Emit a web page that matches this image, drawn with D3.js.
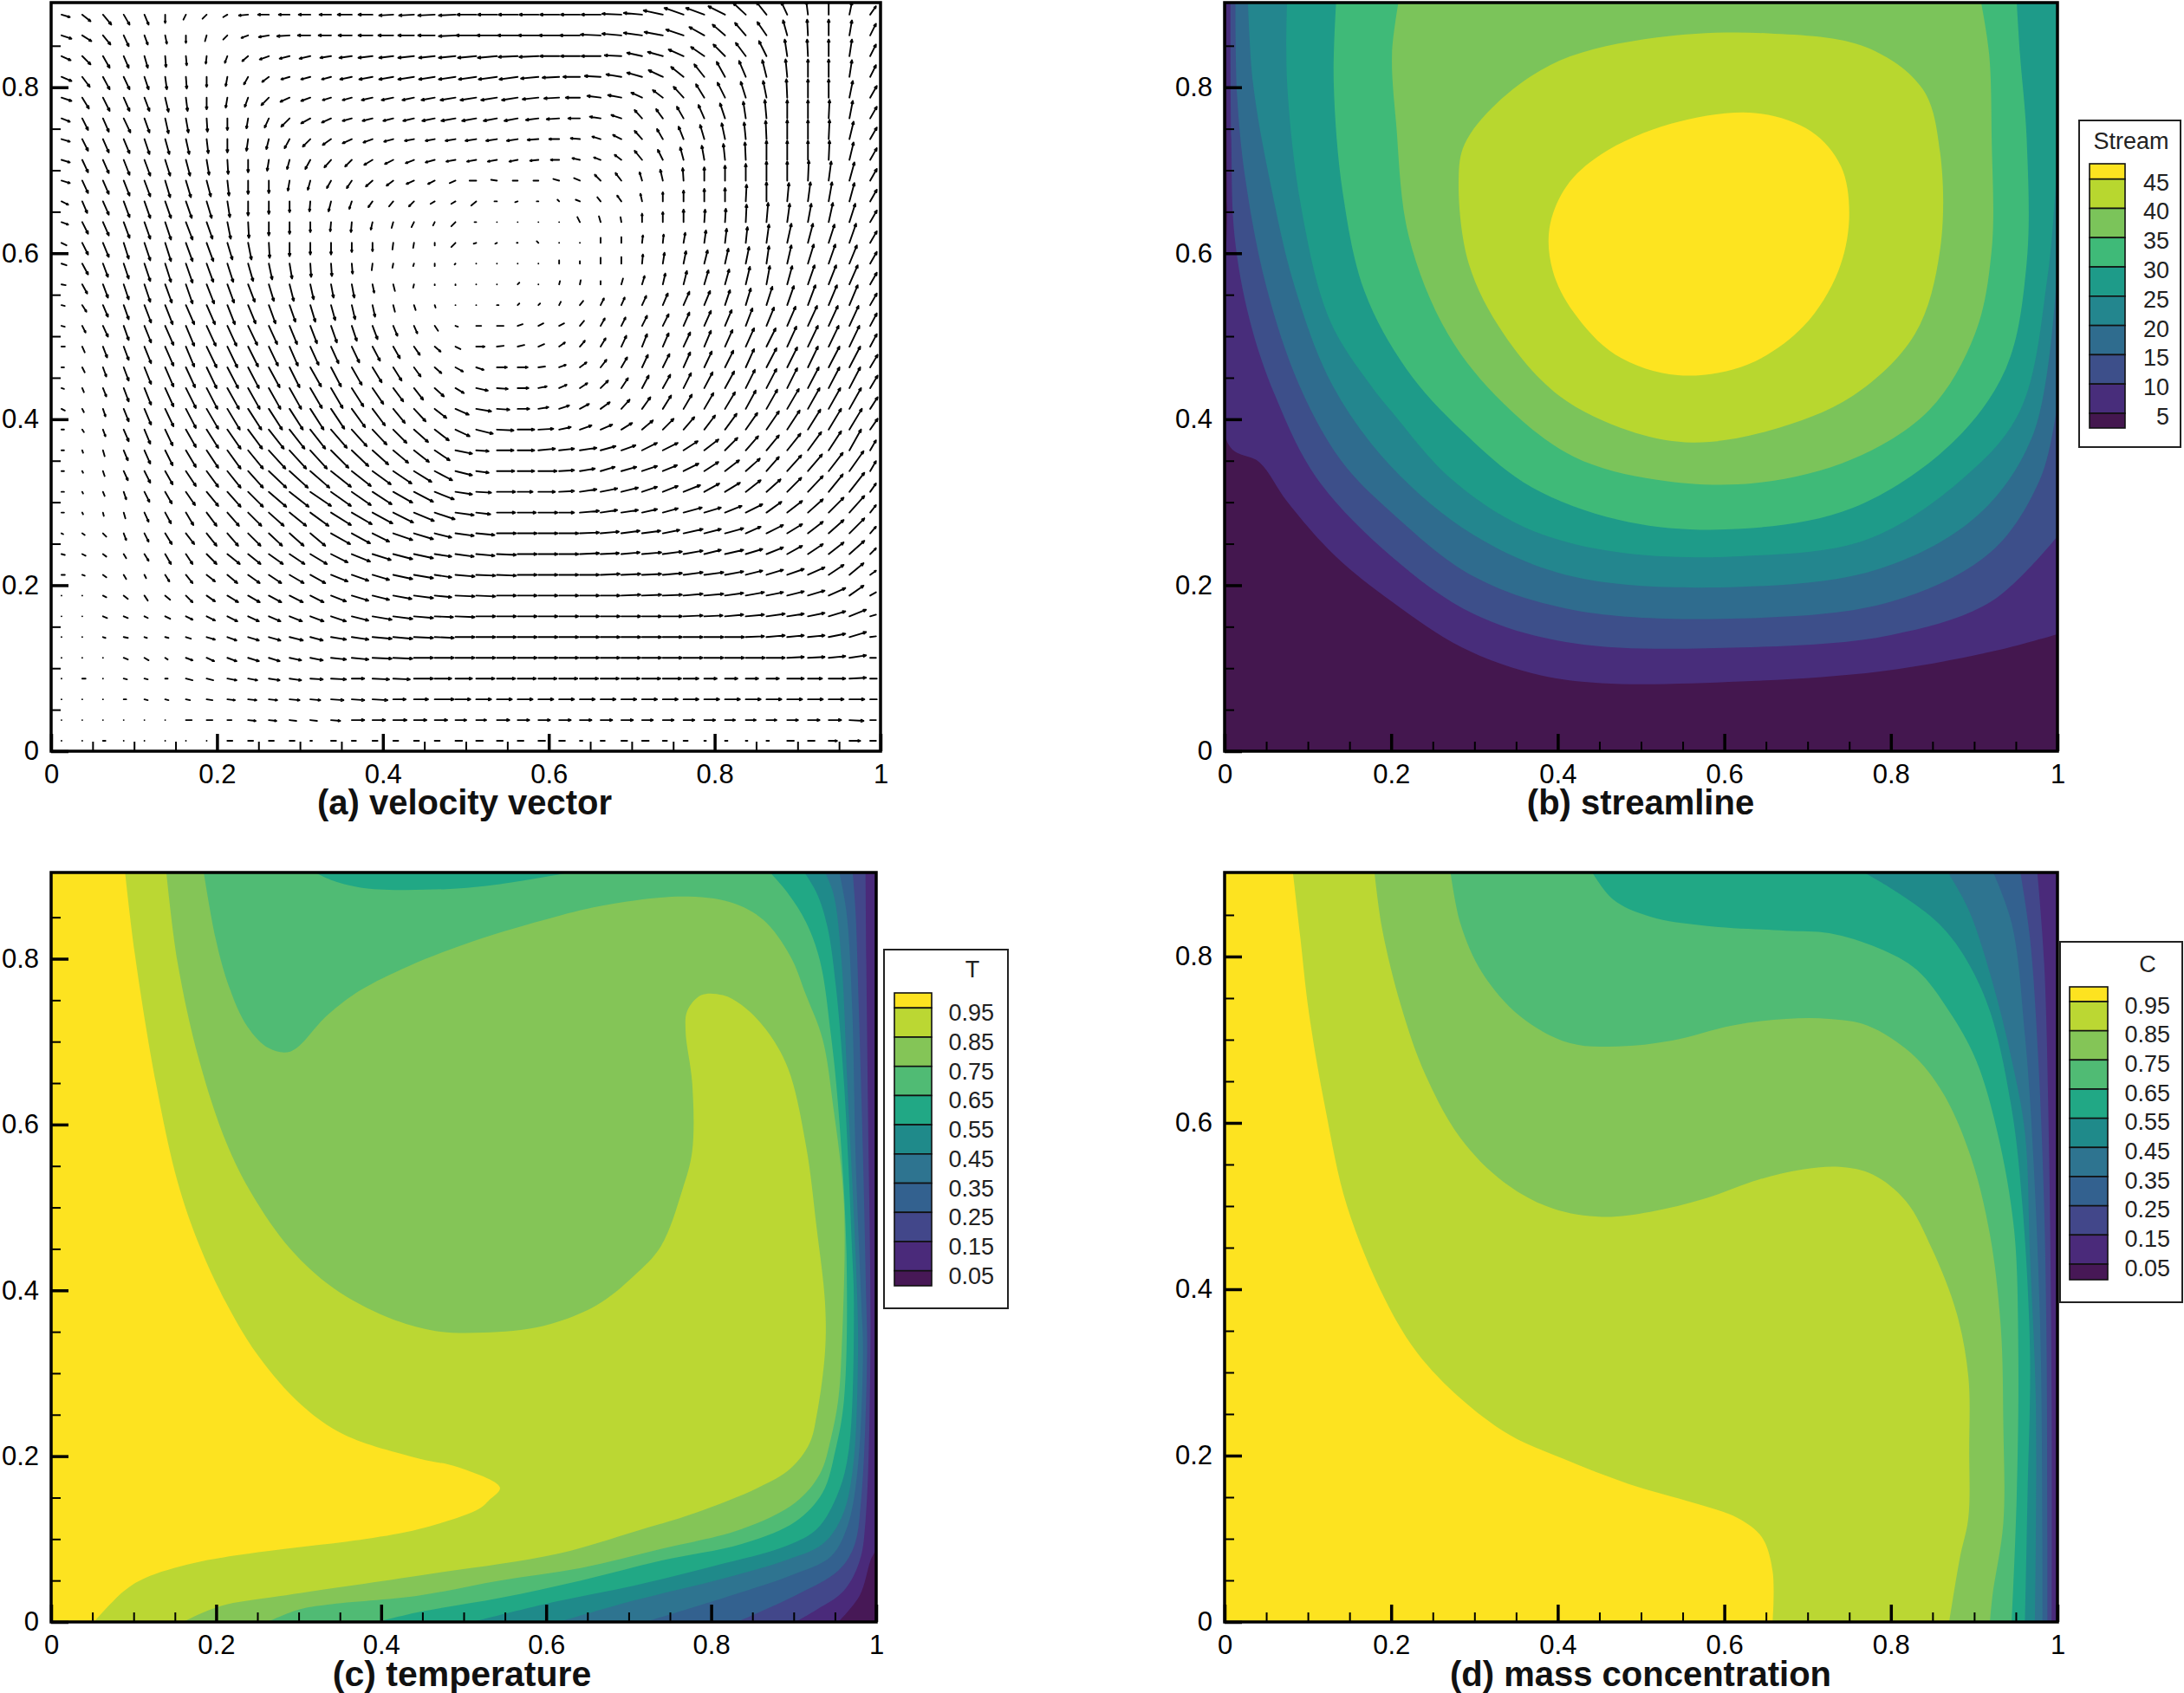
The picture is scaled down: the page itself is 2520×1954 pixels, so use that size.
<!DOCTYPE html>
<html>
<head>
<meta charset="utf-8">
<script src="https://cdn.jsdelivr.net/npm/d3@7"></script>
<style>
  html, body { margin: 0; padding: 0; background: #fff; }
  text { font-family: "Liberation Sans", Arial, sans-serif; }
</style>
</head>
<body>
<div id="chart"></div>
<script>
// axis ticks, shared by all four panels
var xMajor = [0, 0.2, 0.4, 0.6, 0.8, 1];
var yMajor = [0, 0.2, 0.4, 0.6, 0.8];
var xMinor = [0.05, 0.1, 0.15, 0.25, 0.3, 0.35, 0.45, 0.5, 0.55, 0.65, 0.7, 0.75, 0.85, 0.9, 0.95];
var yMinor = [0.05, 0.1, 0.15, 0.25, 0.3, 0.35, 0.45, 0.5, 0.55, 0.65, 0.7, 0.75, 0.85];

// velocity grid, cell centres
var velX = d3.range(40).map(function (i) { return 0.0125 + 0.025 * i; });
var velY = d3.range(36).map(function (j) { return 0.8875 - 0.025 * j; });

// velocity components, row by row from the top
var velU = [
[10,10,10,7,5,0,-3,-5,-5,-11,-13,-13,-14,-14,-17,-17,-17,-18,-20,-20,-23,-23,-23,-23,-23,-23,-23,-23,-22,-23,-23,-22,-20,-15,-12,-7,-2,0,3,7],
[12,11,9,6,4,2,0,-2,-5,-8,-12,-15,-15,-15,-16,-17,-18,-19,-20,-20,-24,-24,-24,-24,-24,-24,-24,-23,-22,-22,-21,-18,-15,-13,-11,-5,-1,0,3,7],
[11,10,8,6,4,1,1,-1,-3,-7,-11,-12,-13,-13,-15,-17,-17,-19,-19,-20,-22,-23,-23,-23,-23,-23,-23,-20,-18,-18,-18,-16,-14,-12,-9,-3,-1,0,3,7],
[12,9,8,7,5,2,1,0,-2,-5,-8,-10,-11,-11,-14,-16,-17,-19,-19,-20,-21,-22,-22,-21,-20,-20,-19,-18,-18,-17,-15,-12,-10,-8,-5,-2,0,0,3,7],
[12,8,8,7,6,4,2,0,-2,-4,-9,-11,-11,-10,-11,-13,-14,-14,-16,-18,-19,-19,-19,-19,-18,-17,-16,-16,-13,-12,-12,-10,-9,-6,-4,-1,0,0,4,8],
[10,7,7,8,6,4,3,1,0,-2,-5,-10,-11,-11,-11,-12,-12,-13,-15,-17,-17,-16,-16,-15,-15,-14,-13,-12,-9,-8,-8,-7,-6,-3,-2,0,0,1,4,8],
[10,7,7,7,6,5,4,2,0,-2,-3,-6,-9,-10,-11,-11,-11,-11,-11,-12,-13,-13,-13,-13,-12,-11,-10,-10,-9,-7,-6,-5,-4,-2,-1,0,0,1,5,8],
[10,7,7,7,7,6,5,3,1,0,-2,-3,-6,-8,-8,-10,-10,-10,-11,-11,-11,-11,-10,-10,-10,-9,-8,-8,-9,-6,-4,-3,-2,-1,0,0,0,1,5,8],
[10,7,7,7,7,6,6,5,2,0,0,-2,-3,-5,-6,-8,-8,-9,-8,-7,-8,-7,-6,-6,-7,-7,-7,-7,-3,-3,-1,0,0,0,0,0,1,3,6,8],
[8,6,7,7,7,7,7,6,3,0,0,0,-1,-3,-3,-5,-5,-6,-5,-5,-6,-3,-3,-2,-2,-5,-4,-5,-2,0,0,0,0,1,0,2,3,4,6,8],
[8,7,7,7,7,7,8,7,4,1,0,0,0,-1,-1,-2,-2,-3,-2,-5,-2,0,0,0,0,-3,-2,-1,0,0,0,1,1,1,2,3,4,5,7,8],
[6,7,7,6,7,7,8,8,6,4,1,0,0,0,0,0,-1,-1,0,-5,-3,-2,-1,-2,0,0,0,0,1,1,2,2,2,2,3,5,6,7,8,8],
[6,7,6,6,7,7,8,8,7,6,4,3,1,1,1,-1,-1,-1,0,-1,0,0,0,0,0,0,0,0,1,2,3,4,4,4,3,5,7,8,9,8],
[5,6,6,6,7,8,8,9,8,8,6,5,4,3,3,2,2,-1,0,0,0,0,2,0,1,1,0,2,3,3,4,5,5,5,4,6,8,9,10,8],
[4,5,6,6,8,9,10,10,9,9,8,7,6,5,4,3,2,2,1,0,0,2,2,2,2,4,4,4,5,6,7,7,6,6,7,8,9,10,10,8],
[4,4,6,6,8,10,10,11,11,11,10,9,8,7,6,6,5,4,4,3,6,8,6,6,6,5,5,5,6,7,7,8,8,8,9,10,11,11,11,8],
[4,3,5,6,8,10,10,12,12,12,11,10,10,9,9,9,8,7,7,6,10,8,8,7,7,6,6,6,6,7,8,8,9,10,11,11,12,12,12,8],
[3,3,4,6,8,10,11,12,13,13,13,12,13,12,12,11,10,8,8,9,9,12,12,8,8,8,7,7,7,8,8,9,10,10,12,12,12,13,13,9],
[3,2,4,6,8,10,12,13,14,14,14,14,14,14,14,13,12,11,11,10,14,13,13,10,9,9,9,8,8,9,9,10,11,11,12,12,13,13,13,9],
[4,2,3,6,8,10,12,14,15,16,16,16,16,16,16,15,14,14,14,16,18,15,14,12,12,11,11,10,10,10,10,11,12,12,13,14,14,14,14,9],
[3,2,3,6,7,9,12,14,16,17,18,18,18,19,18,17,16,17,17,17,20,20,20,18,14,14,14,13,13,13,13,13,14,14,15,15,15,15,15,9],
[3,1,2,5,7,9,12,14,16,18,20,20,20,21,20,19,18,18,18,20,15,20,20,20,18,20,18,17,18,18,17,17,15,15,15,16,16,15,14,7],
[3,1,2,5,7,9,12,14,16,18,21,22,23,24,23,22,22,21,21,20,15,21,20,22,18,18,17,18,18,17,18,17,17,17,15,17,17,17,17,7],
[3,1,2,3,6,8,11,14,16,18,21,23,25,24,23,23,23,23,23,20,18,22,18,20,18,20,20,20,18,18,20,18,18,18,17,17,18,17,18,7],
[3,1,1,2,5,7,9,12,14,16,18,20,22,24,24,24,24,24,24,22,17,22,22,23,18,23,20,20,18,18,22,20,20,20,18,18,18,18,18,7],
[2,3,4,3,5,8,10,12,13,15,16,17,18,23,22,20,23,23,20,22,22,23,23,23,23,23,22,22,22,20,23,20,22,18,20,18,18,18,18,7],
[4,4,4,3,5,7,8,12,15,15,17,18,20,20,22,22,23,23,20,22,22,23,23,23,23,23,22,22,23,23,23,20,22,20,20,18,18,18,18,7],
[4,3,4,3,2,5,8,10,12,14,15,17,18,20,20,20,23,23,20,23,23,23,23,23,23,23,23,23,23,23,23,23,22,20,20,20,20,18,17,7],
[0,0,4,5,4,6,8,10,13,14,15,16,16,18,20,20,22,23,20,23,23,23,23,23,23,23,23,23,23,23,23,23,22,22,20,20,20,20,17,7],
[0,0,5,5,4,6,8,10,12,13,14,15,16,18,20,23,23,23,22,23,23,23,23,23,23,23,23,23,23,23,23,22,22,22,22,20,20,20,20,7],
[0,0,3,5,3,4,6,10,11,13,14,16,15,18,20,23,23,23,23,23,23,23,23,23,23,23,23,23,23,23,23,23,23,22,22,20,20,20,20,7],
[0,0,0,5,5,3,8,9,11,13,13,14,15,18,20,23,23,23,23,23,23,23,23,23,23,23,23,23,23,23,23,23,23,23,22,20,20,20,20,7],
[0,4,0,4,4,3,8,8,11,11,13,14,15,18,15,20,20,23,20,20,22,22,22,22,22,22,22,22,22,22,18,15,15,15,15,20,17,20,20,8],
[0,0,0,3,4,4,5,7,9,10,10,12,12,15,15,18,15,17,23,18,18,18,18,18,18,18,18,18,18,18,18,18,18,18,18,18,18,18,18,8],
[0,0,0,0,0,0,7,7,5,9,9,8,8,11,15,15,16,15,15,13,12,15,14,14,14,14,14,14,13,13,13,13,12,12,12,13,14,15,17,7],
[0,0,3,0,0,0,0,0,6,6,6,6,2,6,5,6,6,6,6,8,8,7,7,8,7,3,5,7,8,5,5,2,3,2,3,8,8,10,13,7]
];
var velV = [
[-3,-8,-12,-12,-12,-10,-6,-5,-3,-1,0,0,0,0,0,0,-1,-1,-1,-1,0,0,0,0,0,0,0,1,2,5,8,8,10,14,15,15,16,17,15,10],
[-4,-7,-11,-13,-11,-10,-9,-7,-5,-3,-2,-1,0,0,0,0,0,0,0,-1,0,0,0,0,0,0,1,2,3,4,7,10,13,15,16,18,19,19,18,14],
[-5,-10,-14,-14,-14,-13,-11,-9,-8,-6,-4,-3,-3,-2,-2,-2,-2,-2,-2,-2,-2,-2,-1,-1,0,0,0,1,4,5,8,11,14,16,18,20,20,20,20,14],
[-5,-12,-15,-15,-15,-15,-14,-12,-11,-9,-6,-3,-3,-3,-3,-3,-3,-3,-3,-3,-3,-3,-3,-2,-1,0,1,3,5,8,12,15,18,19,20,21,21,21,20,14],
[-4,-13,-16,-16,-16,-17,-16,-14,-12,-11,-9,-5,-4,-3,-3,-3,-3,-3,-3,-3,-3,-3,-3,-2,-1,0,2,3,6,9,13,16,18,19,20,22,22,22,20,14],
[-4,-14,-16,-17,-17,-18,-17,-16,-14,-12,-11,-10,-6,-5,-3,-3,-3,-3,-3,-3,-3,-3,-3,-2,-1,0,2,4,10,11,14,16,18,20,22,22,22,22,21,14],
[-3,-14,-16,-17,-18,-18,-18,-17,-16,-14,-12,-11,-9,-7,-5,-4,-3,-2,-2,-2,-2,-2,-2,-1,0,1,3,5,10,12,15,17,19,20,22,23,23,23,21,14],
[-3,-15,-16,-18,-19,-19,-19,-18,-17,-15,-13,-11,-11,-9,-8,-6,-5,-4,-3,-2,-2,-2,-2,-1,0,2,3,6,11,12,15,17,19,21,23,23,23,23,21,14],
[-3,-15,-16,-18,-19,-20,-20,-19,-18,-16,-15,-12,-11,-9,-9,-7,-6,-4,-4,-3,0,1,0,0,2,3,7,9,10,13,15,16,18,20,23,23,24,23,22,14],
[-4,-14,-16,-19,-20,-20,-20,-20,-19,-17,-15,-13,-12,-12,-9,-7,-6,-6,-3,-3,-5,0,-1,0,2,2,5,7,9,11,13,15,16,20,23,22,23,23,22,14],
[-3,-14,-16,-19,-20,-21,-21,-20,-20,-19,-16,-14,-12,-11,-12,-9,-7,-6,-4,-5,0,0,0,0,0,6,7,6,10,12,15,15,16,21,23,22,22,23,22,14],
[-3,-14,-17,-19,-21,-22,-22,-22,-20,-20,-18,-16,-14,-14,-11,-10,-8,-6,-3,-5,-1,-1,0,2,0,0,6,7,9,10,12,15,17,19,22,23,23,22,23,14],
[-2,-13,-16,-18,-21,-22,-23,-22,-22,-21,-19,-18,-16,-15,-12,-8,-5,-3,-3,-1,0,0,0,0,4,3,7,8,11,13,15,16,18,20,21,22,23,23,22,14],
[-1,-11,-16,-18,-21,-22,-23,-23,-22,-21,-20,-20,-18,-16,-16,-10,-8,-4,-1,-1,0,0,2,0,4,5,4,7,10,13,16,17,18,21,22,22,23,23,23,14],
[-1,-8,-14,-17,-21,-23,-23,-23,-23,-22,-22,-20,-20,-18,-17,-14,-8,-6,-3,0,0,0,2,2,4,5,8,9,11,14,16,17,18,20,22,23,24,24,24,14],
[-1,-8,-13,-17,-20,-23,-24,-24,-24,-23,-22,-22,-21,-20,-18,-16,-12,-9,-6,-1,0,0,2,3,3,6,9,10,12,14,16,18,19,21,22,23,24,24,24,15],
[0,-7,-13,-16,-20,-23,-24,-25,-25,-24,-23,-23,-22,-20,-19,-17,-14,-10,-6,-3,0,1,2,3,5,7,10,13,15,16,17,19,20,22,22,24,25,25,25,15],
[0,-6,-11,-16,-20,-23,-24,-25,-25,-25,-24,-24,-23,-23,-21,-18,-16,-11,-7,-5,-3,0,0,1,3,6,9,12,15,16,18,19,20,22,23,24,25,25,25,15],
[-1,-5,-10,-16,-20,-22,-24,-25,-25,-25,-25,-25,-24,-24,-22,-19,-16,-14,-10,-6,-3,-1,0,2,4,6,9,12,15,16,18,19,20,22,23,24,25,25,25,15],
[-2,-4,-9,-15,-19,-21,-23,-24,-25,-25,-25,-25,-25,-24,-22,-20,-17,-15,-11,-7,-3,-1,0,2,4,6,8,11,14,16,17,19,20,22,23,24,25,25,25,14],
[0,-3,-8,-14,-17,-19,-21,-22,-23,-23,-23,-23,-23,-22,-20,-18,-16,-15,-13,-8,-5,-1,0,1,3,5,6,8,11,13,15,17,19,20,22,23,24,25,25,13],
[0,-3,-7,-12,-16,-18,-20,-21,-22,-22,-22,-22,-22,-21,-19,-17,-15,-14,-12,-4,-1,0,0,2,2,3,5,6,9,9,11,13,15,17,18,20,22,23,25,12],
[0,-2,-6,-11,-14,-16,-18,-19,-20,-20,-20,-20,-20,-19,-18,-16,-15,-13,-11,-5,-2,0,0,0,1,3,5,5,6,7,9,11,13,15,17,19,20,22,24,12],
[0,-2,-5,-9,-12,-14,-16,-17,-18,-18,-18,-18,-17,-17,-16,-15,-13,-12,-9,-3,-1,0,0,0,1,3,4,5,6,7,8,10,11,14,15,17,19,21,23,10],
[0,-2,-4,-7,-11,-13,-15,-16,-16,-16,-16,-16,-16,-15,-14,-13,-12,-10,-8,-3,-2,0,0,0,0,2,3,3,4,5,6,6,8,10,13,14,16,18,20,9],
[-1,-2,-4,-8,-10,-13,-13,-15,-15,-15,-15,-15,-15,-13,-12,-10,-8,-7,-5,-3,-2,0,0,0,0,1,2,3,3,4,5,5,6,8,10,11,14,16,18,8],
[-1,-2,-3,-5,-8,-12,-12,-12,-12,-12,-12,-12,-12,-10,-9,-7,-6,-5,-3,-3,-2,-1,0,0,0,1,1,2,2,3,4,5,5,6,8,10,12,14,16,7],
[0,-1,-3,-5,-4,-8,-10,-8,-10,-10,-10,-10,-10,-8,-7,-6,-5,-4,-3,-2,-1,-1,0,0,0,0,1,1,1,2,3,3,4,5,6,7,9,12,14,5],
[0,0,-2,-4,-6,-5,-8,-7,-8,-8,-8,-8,-8,-7,-6,-5,-4,-3,-2,-1,-1,0,0,0,0,0,0,1,1,1,2,2,3,4,4,5,6,9,12,4],
[0,0,-2,-2,-2,-3,-4,-5,-6,-6,-6,-6,-6,-6,-5,-4,-3,-2,-1,-1,0,0,0,0,0,0,0,0,0,0,1,1,2,2,3,3,4,6,8,2],
[0,0,-1,-1,-1,-1,-2,-3,-4,-4,-4,-4,-4,-3,-3,-2,-2,-1,-1,0,0,0,0,0,0,0,0,0,0,0,0,0,0,1,2,2,2,4,6,1],
[0,0,0,-2,-3,-2,-3,-4,-4,-4,-4,-3,-3,-2,-2,-1,-1,0,0,0,0,0,0,0,0,0,0,0,0,0,0,0,0,0,0,1,1,2,3,0],
[0,0,0,-1,-1,0,-2,-2,-2,-2,-2,-2,-1,-1,0,-1,-1,0,0,0,0,0,0,0,0,0,0,0,0,0,0,0,0,0,0,0,0,0,1,0],
[0,0,0,0,-1,-1,-1,-1,-1,-1,-1,-1,-1,-1,-1,-1,0,0,0,0,0,0,0,0,0,0,0,0,0,0,0,0,0,0,0,0,0,0,0,0],
[0,0,0,0,0,0,0,0,0,-1,-1,-1,-1,-1,0,0,0,0,0,0,0,0,0,0,0,0,0,0,0,0,0,0,0,0,0,0,0,0,-1,0],
[0,0,0,0,0,0,0,0,0,0,0,0,0,0,0,0,0,0,0,0,0,0,0,0,0,0,0,0,0,0,0,0,0,0,0,0,0,0,0,0]
];

// stream function contours, [x, y]
var streamLevels = [5, 10, 15, 20, 25, 30, 35, 40, 45];
var streamColors = ["#44174f", "#482d7b", "#3d4f8a", "#2f6c8e", "#23868e", "#1e9b89", "#3fba78", "#7bc45a", "#b8d72f", "#fde420"];
var streamLines = [
  [[.002,.904],[.003,.655],[.005,.369],[.042,.348],[.075,.301],[.134,.234],[.201,.18],[.285,.125],[.369,.094],[.452,.082],[.62,.084],[.787,.096],[.921,.12],[1,.141]],
  [[.007,.904],[.008,.739],[.012,.62],[.03,.52],[.06,.43],[.11,.33],[.2,.235],[.3,.165],[.42,.13],[.62,.125],[.8,.14],[.92,.18],[1,.259]],
  [[.013,.904],[.015,.79],[.025,.689],[.05,.56],[.09,.44],[.14,.35],[.2,.288],[.3,.21],[.42,.17],[.62,.16],[.8,.18],[.92,.24],[.98,.33],[1,.419]],
  [[.028,.904],[.034,.806],[.054,.689],[.084,.56],[.13,.44],[.2,.343],[.3,.26],[.42,.21],[.62,.198],[.787,.22],[.905,.285],[.972,.385],[1,.586]],
  [[.075,.904],[.075,.806],[.092,.655],[.126,.52],[.176,.44],[.2,.41],[.27,.33],[.36,.27],[.47,.24],[.62,.235],[.771,.255],[.888,.33],[.955,.41],[.988,.571],[1,.715]],
  [[.134,.904],[.131,.806],[.142,.672],[.168,.554],[.218,.461],[.285,.386],[.369,.318],[.486,.276],[.62,.268],[.754,.293],[.871,.369],[.938,.461],[.963,.588],[.963,.739],[.955,.84],[.951,.904]],
  [[.209,.904],[.201,.84],[.206,.756],[.221,.621],[.268,.503],[.335,.419],[.419,.355],[.519,.327],[.637,.323],[.754,.352],[.846,.411],[.901,.503],[.921,.604],[.921,.739],[.918,.84],[.908,.904]],
  [[.281,.689],[.293,.588],[.335,.503],[.402,.428],[.486,.386],[.561,.372],[.653,.386],[.754,.428],[.829,.503],[.859,.604],[.859,.722],[.838,.798],[.771,.848],[.653,.865],[.519,.86],[.402,.832],[.327,.781],[.288,.731]],
  [[.39,.63],[.41,.68],[.452,.719],[.536,.756],[.637,.769],[.704,.747],[.74,.705],[.75,.646],[.737,.579],[.695,.512],[.628,.466],[.544,.453],[.469,.478],[.419,.529],[.394,.579]]
];

// temperature contours, each from the bottom edge up to the top edge
var tempLevels = [.05, .15, .25, .35, .45, .55, .65, .75, .85, .95];
var tempColors = ["#471856", "#4a2a7a", "#42478a", "#33618f", "#2e7490", "#1f8a8a", "#21a885", "#50bb74", "#84c557", "#bbd733", "#fde320"];
var tempLines = [
  [[.954,0],[.98,.032],[.993,.074],[1,.091],[1,.91]],
  [[.902,0],[.928,.015],[.961,.038],[.98,.074],[.987,.121],[.993,.326],[.99,.621],[.988,.797],[.987,.91]],
  [[.831,0],[.902,.032],[.954,.062],[.973,.091],[.982,.15],[.989,.326],[.988,.385],[.984,.562],[.979,.738],[.975,.856],[.971,.91]],
  [[.72,0],[.824,.032],[.896,.056],[.945,.079],[.965,.115],[.977,.179],[.984,.326],[.982,.385],[.975,.562],[.971,.738],[.964,.856],[.954,.91]],
  [[.616,0],[.707,.026],[.805,.05],[.889,.074],[.935,.094],[.958,.126],[.971,.179],[.978,.326],[.975,.444],[.965,.65],[.958,.797],[.948,.879],[.935,.91]],
  [[.511,0],[.609,.024],[.707,.044],[.805,.068],[.889,.091],[.928,.112],[.954,.156],[.967,.209],[.973,.385],[.971,.444],[.961,.65],[.951,.768],[.941,.838],[.928,.879],[.909,.91]],
  [[.395,0],[.446,.012],[.544,.029],[.642,.05],[.739,.074],[.837,.094],[.902,.121],[.935,.156],[.951,.209],[.961,.268],[.964,.444],[.954,.621],[.945,.709],[.932,.797],[.915,.844],[.893,.879],[.866,.91]],
  [[.262,0],[.3,.015],[.335,.021],[.446,.032],[.544,.05],[.642,.065],[.739,.088],[.837,.112],[.902,.144],[.932,.179],[.945,.221],[.954,.268],[.958,.326],[.961,.503],[.948,.621],[.935,.703],[.915,.756],[.896,.803],[.863,.847],[.824,.868],[.765,.875],[.674,.865],[.609,.85],[.511,.821],[.433,.791],[.375,.762],[.335,.732],[.29,.688],[.264,.692],[.238,.718],[.215,.768],[.199,.826],[.184,.91]],
  [[.16,0],[.205,.019],[.276,.031],[.446,.056],[.613,.082],[.707,.109],[.782,.132],[.857,.162],[.896,.185],[.919,.215],[.928,.25],[.938,.326],[.938,.385],[.928,.474],[.915,.574],[.893,.668],[.866,.715],[.837,.744],[.814,.756],[.788,.756],[.771,.737],[.769,.712],[.777,.65],[.777,.568],[.765,.521],[.739,.453],[.707,.418],[.661,.382],[.596,.357],[.524,.349],[.466,.351],[.407,.368],[.342,.403],[.29,.45],[.244,.515],[.212,.579],[.179,.679],[.153,.797],[.139,.91]],
  [[.052,0],[.088,.037],[.114,.053],[.173,.071],[.251,.084],[.381,.1],[.446,.112],[.518,.136],[.531,.147],[.544,.162],[.492,.187],[.446,.197],[.355,.226],[.303,.262],[.251,.321],[.212,.385],[.179,.456],[.153,.532],[.127,.65],[.101,.809],[.089,.91]]
];
// cooler pocket along the top wall, below .65
var tempPocket = [[.312,.908],[.342,.894],[.381,.885],[.479,.884],[.544,.89],[.64,.906]];

// concentration contours, each from the top edge down to the bottom edge
var concLevels = [.05, .15, .25, .35, .45, .55, .65, .75, .85, .95];
var concColors = ["#471856", "#4a2a7a", "#42478a", "#33618f", "#2e7490", "#1f8a8a", "#21a885", "#50bb74", "#84c557", "#bbd733", "#fde320"];
var concLines = [
  [[1,.91],[1,0]],
  [[.975,.91],[.984,.793],[.99,.559],[.993,.266],[.993,0]],
  [[.954,.91],[.967,.822],[.977,.676],[.984,.5],[.987,.324],[.988,0]],
  [[.919,.91],[.945,.84],[.961,.705],[.971,.559],[.98,.324],[.982,0]],
  [[.863,.91],[.893,.857],[.922,.769],[.945,.676],[.961,.588],[.967,.441],[.974,.266],[.973,0]],
  [[.752,.91],[.811,.875],[.857,.84],[.889,.799],[.919,.734],[.945,.617],[.958,.5],[.967,.324],[.964,.149],[.961,0]],
  [[.436,.91],[.466,.869],[.511,.848],[.577,.837],[.674,.831],[.726,.828],[.785,.81],[.831,.784],[.87,.734],[.902,.676],[.928,.588],[.948,.471],[.953,.324],[.951,.149],[.945,0]],
  [[.27,.91],[.283,.84],[.309,.781],[.355,.728],[.414,.696],[.472,.692],[.537,.699],[.609,.717],[.674,.725],[.726,.725],[.772,.717],[.824,.684],[.863,.635],[.896,.559],[.919,.465],[.932,.354],[.935,.237],[.935,.119],[.922,.032],[.919,0]],
  [[.179,.91],[.189,.834],[.212,.74],[.241,.658],[.283,.582],[.335,.529],[.394,.497],[.453,.487],[.511,.493],[.577,.509],[.642,.532],[.694,.544],[.739,.547],[.778,.538],[.818,.506],[.85,.447],[.879,.371],[.893,.295],[.894,.207],[.893,.125],[.883,.078],[.87,0]],
  [[.081,.91],[.091,.822],[.101,.734],[.121,.617],[.147,.5],[.192,.389],[.231,.324],[.283,.269],[.342,.225],[.407,.196],[.485,.166],[.564,.143],[.616,.125],[.645,.102],[.658,.061],[.658,0]]
];

var streamLabels = ["45", "40", "35", "30", "25", "20", "15", "10", "5"];
var fracLabels = ["0.95", "0.85", "0.75", "0.65", "0.55", "0.45", "0.35", "0.25", "0.15", "0.05"];

var width = 2520, height = 1954;
var svg = d3.select("#chart").append("svg")
  .attr("width", width).attr("height", height)
  .style("display", "block").style("background", "#fff");

var clipId = 0;

// one plot frame: scales, clip, ticks and title
function makePanel(box, title) {
  var x = d3.scaleLinear().domain([0, 1]).range([box.left, box.right]);
  var y = d3.scaleLinear().domain([0, box.top_y]).range([box.bottom, box.top]);
  var id = "clip" + (clipId++);
  svg.append("clipPath").attr("id", id).append("rect")
    .attr("x", box.left).attr("y", box.top)
    .attr("width", box.right - box.left).attr("height", box.bottom - box.top);
  var g = svg.append("g");
  var marks = g.append("g").attr("clip-path", "url(#" + id + ")");
  return { x: x, y: y, g: g, marks: marks, box: box, title: title };
}

function finishPanel(p) {
  var box = p.box;
  var fmt = function (d) { return String(d); };

  function styleAxis(a, w, size) {
    a.select(".domain").remove();
    a.selectAll("line").attr("stroke", "#000").attr("stroke-width", w);
    a.selectAll("text").attr("font-size", size).attr("fill", "#000")
      .attr("font-family", '"Liberation Sans", Arial, sans-serif');
  }

  p.g.append("g").attr("transform", "translate(0," + box.bottom + ")")
    .call(d3.axisBottom(p.x).tickValues(xMinor).tickSizeInner(-11).tickSizeOuter(0).tickFormat(""))
    .call(styleAxis, 2, 0);
  p.g.append("g").attr("transform", "translate(" + box.left + ",0)")
    .call(d3.axisLeft(p.y).tickValues(yMinor).tickSizeInner(-11).tickSizeOuter(0).tickFormat(""))
    .call(styleAxis, 2, 0);
  p.g.append("g").attr("transform", "translate(0," + box.bottom + ")")
    .call(d3.axisBottom(p.x).tickValues(xMajor).tickSizeInner(-20).tickSizeOuter(0).tickPadding(15).tickFormat(fmt))
    .call(styleAxis, 3.5, 31);
  p.g.append("g").attr("transform", "translate(" + box.left + ",0)")
    .call(d3.axisLeft(p.y).tickValues(yMajor).tickSizeInner(-20).tickSizeOuter(0).tickPadding(14).tickFormat(fmt))
    .call(styleAxis, 3.5, 31);

  p.g.append("rect")
    .attr("x", box.left).attr("y", box.top)
    .attr("width", box.right - box.left).attr("height", box.bottom - box.top)
    .attr("fill", "none").attr("stroke", "#000").attr("stroke-width", 3.5);

  p.g.append("text")
    .attr("x", p.title.x).attr("y", p.title.y)
    .attr("text-anchor", "middle").attr("fill", "#111")
    .attr("font-size", p.title.size).attr("font-weight", "bold")
    .text(p.title.text);
}

// nested contour regions, painted from the lowest level upward
function drawContours(p, levels, colors, lines, closeFor) {
  var color = d3.scaleThreshold().domain(levels).range(colors);
  var lineOpen = d3.line().x(function (d) { return p.x(d[0]); }).y(function (d) { return p.y(d[1]); })
    .curve(d3.curveCatmullRom.alpha(0.5));
  var lineShut = d3.line().x(function (d) { return p.x(d[0]); }).y(function (d) { return p.y(d[1]); })
    .curve(d3.curveCatmullRomClosed.alpha(0.5));

  p.marks.append("rect")
    .attr("x", p.box.left).attr("y", p.box.top)
    .attr("width", p.box.right - p.box.left).attr("height", p.box.bottom - p.box.top)
    .attr("fill", colors[0]);

  lines.forEach(function (pts, i) {
    var closing = closeFor(i);
    var dPath;
    if (closing === null) {
      dPath = lineShut(pts);
    } else {
      dPath = lineOpen(pts) + closing.map(function (c) {
        return "L" + p.x(c[0]) + "," + p.y(c[1]);
      }).join("") + "Z";
    }
    p.marks.append("path").attr("d", dPath).attr("fill", color(levels[i]));
  });
  return { color: color, lineOpen: lineOpen };
}

// legend box with stepped swatches
function drawLegend(lg, title, levels, colors, labels) {
  var ly = d3.scaleLinear().domain([levels[0], levels[levels.length - 1]]).range([lg.yHi, lg.yLo]);
  var edges = [lg.swTop].concat(levels.slice().reverse().map(function (v) { return ly(v); })).concat([lg.swBottom]);
  var g = svg.append("g");
  g.append("rect").attr("x", lg.x0).attr("y", lg.y0)
    .attr("width", lg.x1 - lg.x0).attr("height", lg.y1 - lg.y0)
    .attr("fill", "#fff").attr("stroke", "#222").attr("stroke-width", 2);
  g.append("text").attr("x", lg.titleX).attr("y", lg.titleY)
    .attr("text-anchor", "middle").attr("font-size", 27).attr("fill", "#222").text(title);
  g.selectAll(".sw").data(colors.slice().reverse()).enter().append("rect")
    .attr("x", lg.swX0).attr("width", lg.swX1 - lg.swX0)
    .attr("y", function (d, i) { return edges[i]; })
    .attr("height", function (d, i) { return edges[i + 1] - edges[i]; })
    .attr("fill", function (d) { return d; })
    .attr("stroke", "#111").attr("stroke-width", 1.6);
  g.selectAll(".lb").data(labels).enter().append("text")
    .attr("x", lg.labelX).attr("text-anchor", "end")
    .attr("y", function (d, i) { return edges[i + 1] + lg.labelDy; })
    .attr("font-size", 27).attr("fill", "#222")
    .text(function (d) { return d; });
}

// (a) velocity vectors
var pa = makePanel({ left: 59, right: 1016, top: 3, bottom: 867, top_y: 0.902 },
  { text: "(a) velocity vector", x: 536, y: 940, size: 40 });
var velUnit = 0.001; // table values are in thousandths of the axis range
var arrows = [];
velY.forEach(function (yy, j) {
  velX.forEach(function (xx, i) {
    arrows.push({ x: xx, y: yy, u: velU[j][i], v: velV[j][i] });
  });
});
pa.marks.selectAll(".arrow").data(arrows).enter().append("path")
  .attr("class", "arrow")
  .attr("fill", "none").attr("stroke", "#000").attr("stroke-width", 1.9).attr("stroke-linecap", "round")
  .attr("d", function (d) {
    var x0 = pa.x(d.x), y0 = pa.y(d.y);
    var x1 = pa.x(d.x + d.u * velUnit), y1 = pa.y(d.y + d.v * velUnit);
    var path = d3.path();
    path.moveTo(x0, y0);
    path.lineTo(x1 + 0.01, y1);
    var len = Math.hypot(x1 - x0, y1 - y0);
    if (len > 8) {
      var ang = Math.atan2(y1 - y0, x1 - x0);
      var h = Math.min(3, len * 0.2);
      path.moveTo(x1, y1);
      path.lineTo(x1 - h * Math.cos(ang - 0.4), y1 - h * Math.sin(ang - 0.4));
      path.moveTo(x1, y1);
      path.lineTo(x1 - h * Math.cos(ang + 0.4), y1 - h * Math.sin(ang + 0.4));
    }
    return path.toString();
  });
finishPanel(pa);

// (b) streamline
var pb = makePanel({ left: 1413, right: 2374, top: 3, bottom: 867, top_y: 0.902 },
  { text: "(b) streamline", x: 1893, y: 940, size: 40 });
drawContours(pb, streamLevels, streamColors, streamLines, function (i) {
  if (i <= 4) return [[1, 0.95]];
  if (i <= 6) return [];
  return null;
});
finishPanel(pb);
drawLegend({ x0: 2399, x1: 2516, y0: 139, y1: 516, swX0: 2411, swX1: 2452, swTop: 189, swBottom: 494,
  yHi: 477, yLo: 206.7, labelX: 2503, labelDy: 13, titleX: 2459, titleY: 172 },
  "Stream", streamLevels, streamColors, streamLabels);

// (c) temperature
var pc = makePanel({ left: 59, right: 1011, top: 1007, bottom: 1872, top_y: 0.904 },
  { text: "(c) temperature", x: 533, y: 1946, size: 41 });
var cDraw = drawContours(pc, tempLevels, tempColors, tempLines, function () { return [[0, 0.91], [0, 0]]; });
pc.marks.append("path")
  .attr("d", cDraw.lineOpen(tempPocket) + "Z")
  .attr("fill", cDraw.color(0.6));
finishPanel(pc);
drawLegend({ x0: 1020, x1: 1163, y0: 1096, y1: 1510, swX0: 1032, swX1: 1075, swTop: 1146, swBottom: 1484,
  yHi: 1466.7, yLo: 1163.3, labelX: 1147, labelDy: 15, titleX: 1122, titleY: 1128 },
  "T", tempLevels, tempColors, fracLabels);

// (d) mass concentration
var pd = makePanel({ left: 1413, right: 2374, top: 1007, bottom: 1872, top_y: 0.901 },
  { text: "(d) mass concentration", x: 1893, y: 1946, size: 40 });
drawContours(pd, concLevels, concColors, concLines, function () { return [[0, 0], [0, 0.91]]; });
finishPanel(pd);
drawLegend({ x0: 2377, x1: 2518, y0: 1087, y1: 1503, swX0: 2388, swX1: 2432, swTop: 1139, swBottom: 1477,
  yHi: 1459, yLo: 1156, labelX: 2504, labelDy: 13.5, titleX: 2478, titleY: 1122 },
  "C", concLevels, concColors, fracLabels);
</script>
</body>
</html>
